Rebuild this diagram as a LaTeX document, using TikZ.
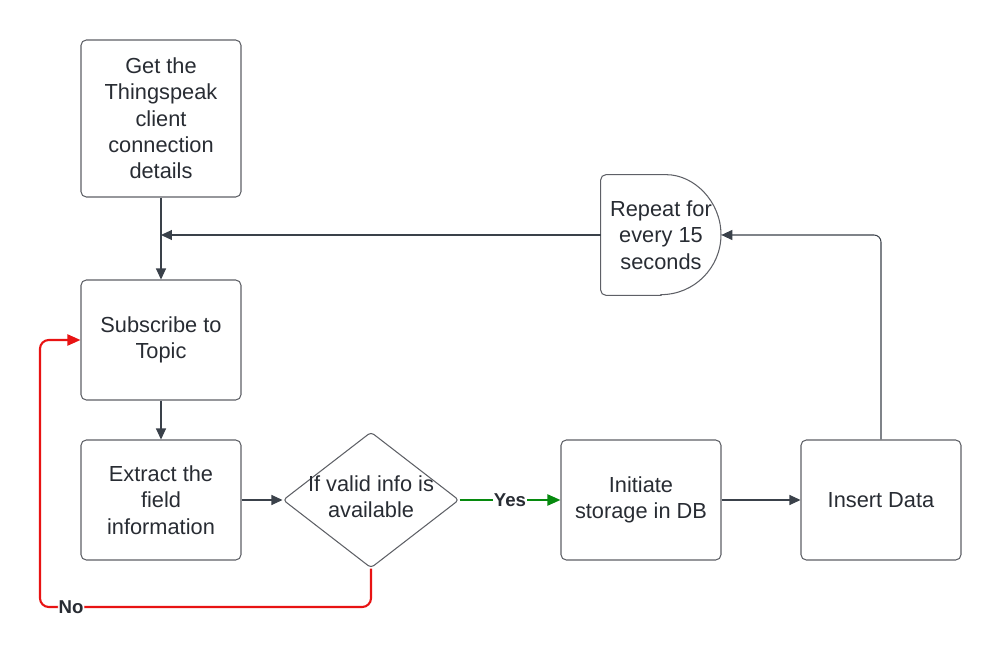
\documentclass[tikz,border=0pt]{standalone}
\usepackage{fontspec}
\setmainfont{Liberation Sans}
\usetikzlibrary{shapes.geometric, arrows.meta}
\usepackage{xcolor}
\definecolor{ink}{HTML}{282C33}
\definecolor{edge}{HTML}{5E6066}
\definecolor{wire}{HTML}{3A414A}
\definecolor{nored}{HTML}{E81313}
\definecolor{yesgreen}{HTML}{068A0E}

\begin{document}
\begin{tikzpicture}[
    x=0.02cm, y=-0.02cm,
    every node/.style={font=\fontsize{12.4}{15}\selectfont, text=ink},
    box/.style={rectangle, draw=edge, line width=0.6pt, rounded corners=3pt,
                minimum width=3.2cm, minimum height=2.4cm, align=center},
    decision/.style={diamond, draw=edge, line width=0.6pt, rounded corners=2pt,
                     minimum width=3.52cm, minimum height=2.72cm, inner sep=0pt},
    delay/.style={rectangle, minimum width=2.4cm, minimum height=2.4cm, align=center},
    flow/.style={-{Triangle[length=2.2mm, width=2mm]}, line width=0.6pt, wire},
    yesflow/.style={-{Triangle[length=2.6mm, width=2.2mm]}, line width=1.2pt, yesgreen},
    noflow/.style={-{Triangle[length=2.6mm, width=2.2mm]}, line width=1.2pt, nored, rounded corners=5pt},
    lbl/.style={font=\fontsize{10.6}{12}\selectfont\bfseries, fill=white, inner sep=0.5pt}
]
    \useasboundingbox (0,0) rectangle (1002,659);

    \node[box, minimum height=3.14cm] (get)       at (161,118.5) {Get the\\Thingspeak\\client\\connection\\details};
    \node[box]                        (subscribe) at (161,340) {Subscribe to\\Topic};
    \node[box]                        (extract)   at (161,500) {Extract the\\field\\information};
    \node[decision, label={[align=center, yshift=0.06cm]center:If valid info is\\available}]
                                      (valid)     at (371,500) {};
    \node[box]                        (initiate)  at (641,500) {Initiate\\storage in DB};
    \node[box]                        (insert)    at (881,500) {Insert Data};
    \node[delay]                      (repeat)    at (661,235) {Repeat for\\every 15\\seconds};
    \draw[edge, line width=0.6pt, rounded corners=3pt]
        (repeat.south) -- (repeat.south west) -- (repeat.north west) -- (repeat.north)
        [sharp corners] arc[start angle=90, end angle=-90, radius=1.2cm] -- cycle;
    \coordinate (nocorner) at (40,607);

    \draw[flow] (get) -- (subscribe);
    \draw[flow] (repeat.west) -- (repeat.west -| get.south);
    \draw[flow] (subscribe) -- (extract);
    \draw[flow] (extract) -- (valid);
    \draw[yesflow] (valid) -- node[lbl]{Yes} (initiate);
    \draw[flow] (initiate) -- (insert);
    \draw[flow, rounded corners=4pt] (insert.north) |- (repeat.east);
    \draw[noflow] (valid.south) |- node[lbl, pos=0.953]{No} (nocorner) |- (subscribe.west);
\end{tikzpicture}
\end{document}
